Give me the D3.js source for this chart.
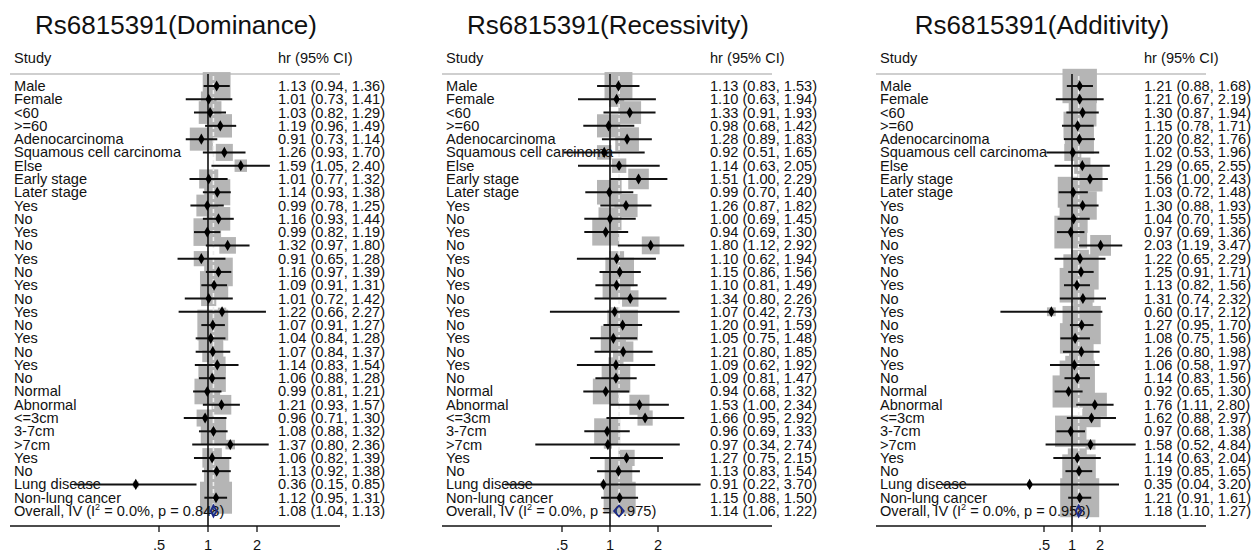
<!DOCTYPE html>
<html>
<head>
<meta charset="utf-8">
<script src="https://cdn.jsdelivr.net/npm/d3@7"></script>
<style>
  body { margin: 0; background: #fff; }
  svg text { font-family: "Liberation Sans", Arial, sans-serif; fill: #111; }
</style>
</head>
<body>
<svg id="chart" width="1260" height="552"></svg>
<script>
// row labels, shared by all three panels
const studies = ["Male", "Female", "<60", ">=60", "Adenocarcinoma", "Squamous cell carcinoma", "Else",
  "Early stage", "Later stage", "Yes", "No", "Yes", "No", "Yes", "No", "Yes", "No", "Yes", "No",
  "Yes", "No", "Yes", "No", "Normal", "Abnormal", "<=3cm", "3-7cm", ">7cm", "Yes", "No",
  "Lung disease", "Non-lung cancer"];

// [hr, lower, upper] per row
const dominance = [
  [1.13, 0.94, 1.36], [1.01, 0.73, 1.41], [1.03, 0.82, 1.29], [1.19, 0.96, 1.49], [0.91, 0.73, 1.14],
  [1.26, 0.93, 1.70], [1.59, 1.05, 2.40], [1.01, 0.77, 1.32], [1.14, 0.93, 1.38], [0.99, 0.78, 1.25],
  [1.16, 0.93, 1.44], [0.99, 0.82, 1.19], [1.32, 0.97, 1.80], [0.91, 0.65, 1.28], [1.16, 0.97, 1.39],
  [1.09, 0.91, 1.31], [1.01, 0.72, 1.42], [1.22, 0.66, 2.27], [1.07, 0.91, 1.27], [1.04, 0.84, 1.28],
  [1.07, 0.84, 1.37], [1.14, 0.83, 1.54], [1.06, 0.88, 1.28], [0.99, 0.81, 1.21], [1.21, 0.93, 1.57],
  [0.96, 0.71, 1.30], [1.08, 0.88, 1.32], [1.37, 0.80, 2.36], [1.06, 0.82, 1.39], [1.13, 0.92, 1.38],
  [0.36, 0.15, 0.85], [1.12, 0.95, 1.31]];
const recessivity = [
  [1.13, 0.83, 1.53], [1.10, 0.63, 1.94], [1.33, 0.91, 1.93], [0.98, 0.68, 1.42], [1.28, 0.89, 1.83],
  [0.92, 0.51, 1.65], [1.14, 0.63, 2.05], [1.51, 1.00, 2.29], [0.99, 0.70, 1.40], [1.26, 0.87, 1.82],
  [1.00, 0.69, 1.45], [0.94, 0.69, 1.30], [1.80, 1.12, 2.92], [1.10, 0.62, 1.94], [1.15, 0.86, 1.56],
  [1.10, 0.81, 1.49], [1.34, 0.80, 2.26], [1.07, 0.42, 2.73], [1.20, 0.91, 1.59], [1.05, 0.75, 1.48],
  [1.21, 0.80, 1.85], [1.09, 0.62, 1.92], [1.09, 0.81, 1.47], [0.94, 0.68, 1.32], [1.53, 1.00, 2.34],
  [1.66, 0.95, 2.92], [0.96, 0.69, 1.33], [0.97, 0.34, 2.74], [1.27, 0.75, 2.15], [1.13, 0.83, 1.54],
  [0.91, 0.22, 3.70], [1.15, 0.88, 1.50]];
const additivity = [
  [1.21, 0.88, 1.68], [1.21, 0.67, 2.19], [1.30, 0.87, 1.94], [1.15, 0.78, 1.71], [1.20, 0.82, 1.76],
  [1.02, 0.53, 1.96], [1.29, 0.65, 2.55], [1.56, 1.00, 2.43], [1.03, 0.72, 1.48], [1.30, 0.88, 1.93],
  [1.04, 0.70, 1.55], [0.97, 0.69, 1.36], [2.03, 1.19, 3.47], [1.22, 0.65, 2.29], [1.25, 0.91, 1.71],
  [1.13, 0.82, 1.56], [1.31, 0.74, 2.32], [0.60, 0.17, 2.12], [1.27, 0.95, 1.70], [1.08, 0.75, 1.56],
  [1.26, 0.80, 1.98], [1.06, 0.58, 1.97], [1.14, 0.83, 1.56], [0.92, 0.65, 1.30], [1.76, 1.11, 2.80],
  [1.62, 0.88, 2.97], [0.97, 0.68, 1.38], [1.58, 0.52, 4.84], [1.14, 0.63, 2.04], [1.19, 0.85, 1.65],
  [0.35, 0.04, 3.20], [1.21, 0.91, 1.61]];

const titles = ["Rs6815391(Dominance)", "Rs6815391(Recessivity)", "Rs6815391(Additivity)"];
const overall = [[1.08, 1.04, 1.13], [1.14, 1.06, 1.22], [1.18, 1.10, 1.27]];
const pValues = ["0.848", "0.975", "0.958"];
const xTicks = [0.5, 1, 2];
const xTickLabels = [".5", "1", "2"];

// layout of each panel (left edge, where .5 and 2 fall, biggest box side)
const panels = [
  { x0: 10,  half: 149, two: 247, boxMax: 32, rows: dominance },
  { x0: 442, half: 120, two: 216, boxMax: 32, rows: recessivity },
  { x0: 876, half: 168, two: 224, boxMax: 39, rows: additivity }
];

const svg = d3.select("#chart");
const W = 330;
const f2 = d3.format(".2f");
const ciText = d => `${f2(d[0])} (${f2(d[1])}, ${f2(d[2])})`;

// row centres: 32 studies + overall
const y = d3.scalePoint().domain(d3.range(studies.length + 1)).range([86, 511]);
const yHead = 74, yAxis = 526;

panels.forEach((p, pi) => {
  const g = svg.append("g").attr("transform", `translate(${p.x0},0)`);
  const x = d3.scaleLog().domain([0.5, 2]).range([p.half, p.two]);

  const spread = p.rows.map(d => Math.log(d[2] / d[1]));
  const minSpread = d3.min(spread);

  g.append("text").attr("x", W / 2 + 1).attr("y", 34).attr("text-anchor", "middle")
    .style("font-size", "26px").text(titles[pi]);

  g.append("text").attr("x", 4).attr("y", 63).style("font-size", "14.6px").text("Study");
  g.append("text").attr("x", 268).attr("y", 63).style("font-size", "14.6px").text("hr (95% CI)");

  g.append("line").attr("x1", 0).attr("x2", W).attr("y1", yHead).attr("y2", yHead)
    .attr("stroke", "#cfcfcf").attr("stroke-width", 2);

  // weight boxes
  g.selectAll("rect.box").data(p.rows).join("rect").attr("class", "box")
    .each(function (d, i) {
      const s = p.boxMax * minSpread / spread[i];
      d3.select(this).attr("x", x(d[0]) - s / 2).attr("y", y(i) - s / 2)
        .attr("width", s).attr("height", s);
    })
    .attr("fill", "#b5b5b5");

  // overall dashed line
  g.append("line").attr("x1", x(overall[pi][0])).attr("x2", x(overall[pi][0]))
    .attr("y1", yHead + 2).attr("y2", y(studies.length) - 6)
    .attr("stroke", "#eeeeee").attr("stroke-width", 1.6).attr("stroke-dasharray", "4,3");

  // labels
  g.selectAll("text.lab").data(studies).join("text").attr("class", "lab")
    .attr("x", 4).attr("y", (d, i) => y(i) + 5).style("font-size", "14.6px").text(d => d);

  g.selectAll("text.val").data(p.rows).join("text").attr("class", "val")
    .attr("x", 268).attr("y", (d, i) => y(i) + 5).style("font-size", "14.6px").text(ciText);

  const ov = g.append("text").attr("x", 4).attr("y", y(studies.length) + 5).style("font-size", "14.6px");
  ov.append("tspan").text("Overall, IV (I");
  ov.append("tspan").attr("dy", -6).style("font-size", "9px").text("2");
  ov.append("tspan").attr("dy", 6).text(` = 0.0%, p = ${pValues[pi]})`);

  g.append("text").attr("x", 268).attr("y", y(studies.length) + 5).style("font-size", "14.6px")
    .text(ciText(overall[pi]));

  // null line
  g.append("line").attr("x1", x(1)).attr("x2", x(1)).attr("y1", yHead).attr("y2", yAxis)
    .attr("stroke", "#111").attr("stroke-width", 1.6);

  // confidence intervals
  g.selectAll("line.ci").data(p.rows).join("line").attr("class", "ci")
    .attr("x1", d => x(d[1])).attr("x2", d => x(d[2]))
    .attr("y1", (d, i) => y(i)).attr("y2", (d, i) => y(i))
    .attr("stroke", "#111").attr("stroke-width", 2);

  g.selectAll("path.pt").data(p.rows).join("path").attr("class", "pt")
    .attr("transform", (d, i) => `translate(${x(d[0])},${y(i)})`)
    .attr("d", d3.symbol(d3.symbolDiamond, 36)).attr("fill", "#000");

  // overall diamond
  const o = overall[pi], yo = y(studies.length);
  g.append("path")
    .attr("d", `M${x(o[1])},${yo} L${x(o[0])},${yo - 5.5} L${x(o[2])},${yo} L${x(o[0])},${yo + 5.5} Z`)
    .attr("fill", "none").attr("stroke", "#1c2a8a").attr("stroke-width", 1.8);

  // axis
  g.append("line").attr("x1", 0).attr("x2", W).attr("y1", yAxis).attr("y2", yAxis)
    .attr("stroke", "#111").attr("stroke-width", 1.5);
  g.selectAll("line.tick").data(xTicks).join("line").attr("class", "tick")
    .attr("x1", d => x(d)).attr("x2", d => x(d)).attr("y1", yAxis).attr("y2", yAxis + 6)
    .attr("stroke", "#111").attr("stroke-width", 1.3);
  g.selectAll("text.tl").data(xTicks).join("text").attr("class", "tl")
    .attr("x", d => x(d)).attr("y", yAxis + 24).attr("text-anchor", "middle")
    .style("font-size", "14.6px").text((d, i) => xTickLabels[i]);
});
</script>
</body>
</html>
